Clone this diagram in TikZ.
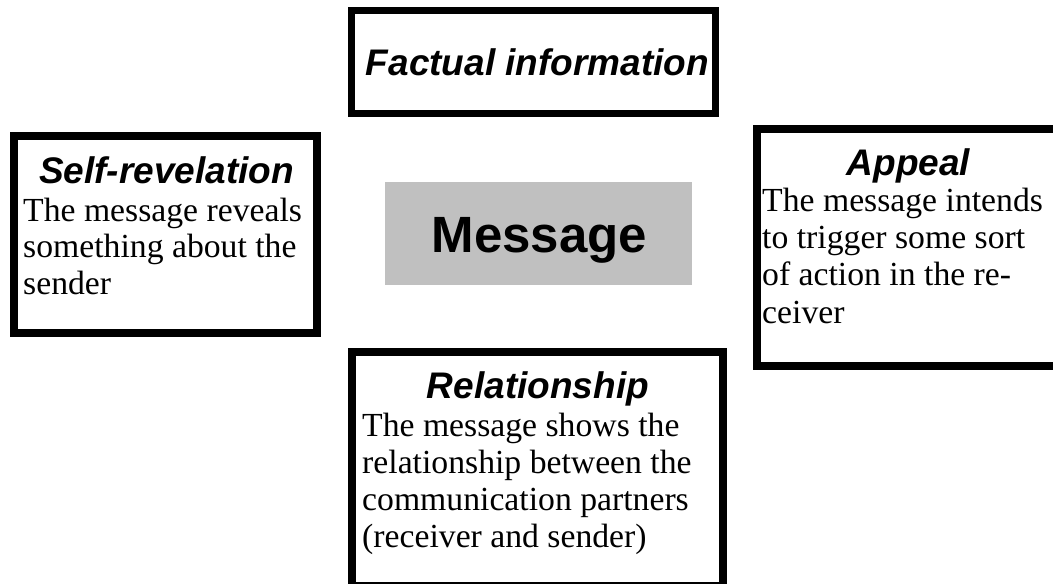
\documentclass[tikz,border=0pt]{standalone}
\usepackage{fontspec}
\setmainfont{Liberation Serif}
\newfontfamily\headfont{Liberation Sans}
\definecolor{msggray}{HTML}{C0C0C0}
\begin{document}
\begin{tikzpicture}[x=1pt,y=-1pt,
  box/.style={draw=black, fill=white, rectangle, inner sep=0pt},
  head/.style={font=\headfont\bfseries\itshape\fontsize{37}{37}\selectfont, anchor=base, inner sep=0pt},
  body/.style={font=\fontsize{33.7}{36}\selectfont, anchor=base west, inner sep=0pt},
  msg/.style={fill=msggray, draw=none, rectangle, inner sep=0pt,
    font=\headfont\bfseries\fontsize{51}{51}\selectfont}]
\useasboundingbox (0,0) rectangle (1053,584);
\clip (0,0) rectangle (1053,584);

% boxes
\node[box, line width=7pt, minimum width=364pt, minimum height=103pt] (fact) at (533.5,62) {};
\node[box, line width=8pt, minimum width=303pt, minimum height=197pt] (self) at (165.5,234.5) {};
\node[box, line width=8pt, minimum width=302pt, minimum height=237pt] (appeal) at (908,247.5) {};
\node[box, line width=8pt, minimum width=371pt, minimum height=234pt] (rel) at (537.5,469) {};
\node[msg, minimum width=307pt, minimum height=103pt] (msgbox) at (538.5,233.5) {};
\node[font=\headfont\bfseries\fontsize{51}{51}\selectfont, anchor=base, inner sep=0pt] (msgtext) at (539.5,252) {Message};

% Factual information
\node[head] (facth) at (537.5,75) {Factual information};

% Self-revelation
\node[head] (selfh) at (166.5,183) {Self-revelation};
\node[body] (self1) at (23,221) {The message reveals};
\node[body] (self2) at (23,257.5) {something about the};
\node[body] (self3) at (23,294) {sender};

% Appeal
\node[head] (appealh) at (908.5,175) {Appeal};
\node[body] (app1) at (762,211) {The message intends};
\node[body] (app2) at (762,248) {to trigger some sort};
\node[body] (app3) at (762,285.5) {of action in the re-};
\node[body] (app4) at (762,323) {ceiver};

% Relationship
\node[head] (relh) at (538,398) {Relationship};
\node[body] (rel1) at (362,436) {The message shows the};
\node[body] (rel2) at (362,473) {relationship between the};
\node[body] (rel3) at (362,510.5) {communication partners};
\node[body] (rel4) at (362,547) {(receiver and sender)};
\end{tikzpicture}
\end{document}
